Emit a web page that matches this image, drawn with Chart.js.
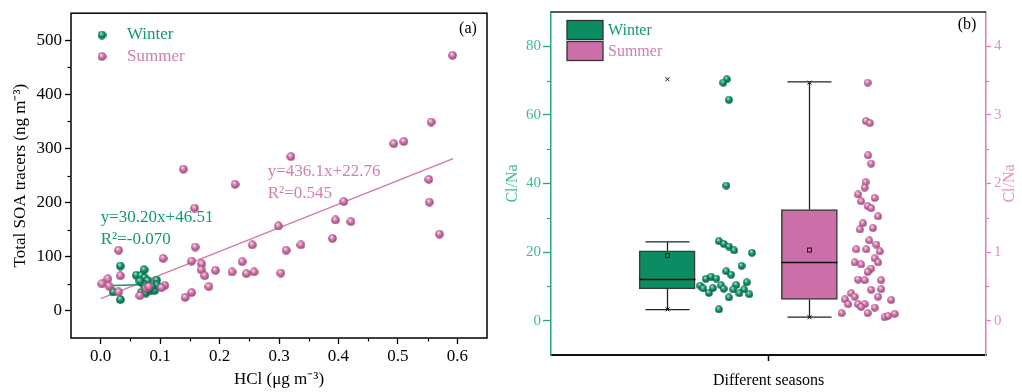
<!DOCTYPE html>
<html><head><meta charset="utf-8">
<script src="https://cdn.jsdelivr.net/npm/chart.js@4.4.1/dist/chart.umd.min.js"></script>
<style>
html,body{margin:0;padding:0;background:#fff;}
#wrap{position:relative;width:1022px;height:392px;overflow:hidden;background:#fff;}
#ca{position:absolute;left:0;top:0;}
#cb{position:absolute;left:500px;top:0;}
</style></head><body>
<div id="wrap"><canvas id="ca" width="500" height="392"></canvas><canvas id="cb" width="522" height="392"></canvas></div>
<script>
// ---------- Panel (a) data ----------
const winterHCl = [0.033,0.073,0.060,0.068,0.074,0.079,0.094,0.021,0.033,0.068,0.076,0.083,0.091,0.094,0.072,0.066,0.086,0.080];
const winterSOA = [83,76,66,65,61,56,57,35,21,34,33,37,38,48,49,55,46,41];
const summerHCl = [0.592,0.556,0.493,0.510,0.552,0.553,0.570,0.409,0.395,0.421,0.390,0.337,0.320,0.299,0.255,0.312,0.258,0.303,0.139,0.226,0.158,0.159,0.105,0.153,0.238,0.170,0.169,0.175,0.193,0.221,0.245,0.182,0.153,0.142,0.108,0.102,0.066,0.076,0.081,0.030,0.033,0.012,0.002,0.014,0.030];
const summerSOA = [472,349,309,313,243,201,142,202,168,165,134,122,285,157,122,112,72,70,262,234,190,118,97,92,91,87,76,65,75,72,69,45,34,25,47,43,28,42,45,112,65,59,50,46,35];
const winterFitX = [0.021, 0.094];
const winterFitY = [47.1, 49.3];
const summerFitX = [0.0, 0.593];
const summerFitY = [22.8, 281.4];
const aXTicks = [0,0.1,0.2,0.3,0.4,0.5,0.6];
const aXTickLabels = ['0.0','0.1','0.2','0.3','0.4','0.5','0.6'];
const aYTicks = [0,100,200,300,400,500];
const aYTickLabels = ['0','100','200','300','400','500'];
const seasonNames = ['Winter','Summer'];
const winterEq = ['y=30.20x+46.51','R\u00B2=-0.070'];
const summerEq = ['y=436.1x+22.76','R\u00B2=0.545'];

// ---------- Panel (b) data ----------
const winterJitter = [0.404,0.396,0.409,0.403,0.386,0.397,0.409,0.421,0.462,0.438,0.403,0.414,0.356,0.368,0.380,0.450,0.426,0.343,0.350,0.372,0.391,0.397,0.419,0.444,0.363,0.433,0.456,0.409,0.386];
const winterRatio = [70.4,69.4,64.4,39.4,23.2,22.4,21.6,20.5,19.8,16.0,14.4,13.4,12.2,12.8,12.3,11.2,10.4,10.2,9.4,9.5,10.3,9.3,9.1,9.1,8.1,8.0,7.7,6.8,3.3];
const summerJitter = [0.728,0.724,0.733,0.729,0.736,0.723,0.721,0.706,0.744,0.713,0.728,0.736,0.752,0.717,0.740,0.710,0.732,0.748,0.702,0.725,0.756,0.744,0.752,0.698,0.713,0.736,0.728,0.706,0.721,0.759,0.736,0.759,0.690,0.698,0.752,0.676,0.782,0.683,0.706,0.721,0.713,0.744,0.668,0.728,0.767,0.775,0.790];
const summerRatio = [3.47,2.91,2.88,2.41,2.29,2.02,1.94,1.84,1.79,1.74,1.67,1.64,1.52,1.42,1.35,1.33,1.17,1.11,1.04,1.04,1.01,0.91,0.85,0.85,0.82,0.76,0.71,0.60,0.59,0.59,0.45,0.46,0.40,0.35,0.35,0.31,0.30,0.24,0.24,0.24,0.20,0.19,0.11,0.11,0.05,0.07,0.10];
// box statistics: [winter (left axis), summer (right axis)]
const boxPos = [0.267, 0.594];
const boxWhiskLow = [3.2, 0.053];
const boxQ1 = [9.3, 0.31];
const boxMedian = [12.0, 0.85];
const boxQ3 = [20.4, 1.62];
const boxWhiskHigh = [23.0, 3.48];
const boxMean = [19.0, 1.03];
const boxMaxMark = [70.4, 3.47];
const boxMinMark = [3.3, 0.05];
const bLeftTicks = [0,20,40,60,80];
const bRightTicks = [0,1,2,3,4];
const bXTicks = [0.5];

// ---------- styles ----------
const SERIF = "'Liberation Serif','Times New Roman',serif";
const GREEN = '#0c8c62', GREEN_TXT = '#14996c', GREEN_LIGHT = '#3fb996', GREEN_AXIS = '#2aa383';
const PINK = '#cc6ea7', PINK_TXT = '#d07fb0', PINK_LIGHT = '#e690c2', PINK_AXIS = '#e07ab5';

function sphere(base, light, dark, d){
  const c = document.createElement('canvas'); c.width = d; c.height = d;
  const g = c.getContext('2d'); const r = d/2;
  const grad = g.createRadialGradient(r*0.75, r*0.6, 0.3, r, r, r);
  grad.addColorStop(0, light); grad.addColorStop(0.5, base); grad.addColorStop(1, dark);
  g.fillStyle = grad; g.beginPath(); g.arc(r, r, r-0.2, 0, Math.PI*2); g.fill();
  return c;
}
const gA = sphere('#0e8f64', '#9fe8cc', '#06583d', 9);
const pA = sphere('#cf6fa9', '#fbd9ec', '#93416f', 9);
const gB = sphere('#0e8f64', '#9fe8cc', '#06583d', 8);
const pB = sphere('#cf6fa9', '#fbd9ec', '#93416f', 8);

function setTicks(arr){ return s => { s.ticks = arr.map(v => ({value: v})); }; }
function mids(arr){ const o=[]; for(let i=0;i<arr.length-1;i++) o.push((arr[i]+arr[i+1])/2); return o; }

const minorTicks = {
  id: 'minorTicks',
  afterDraw(chart, args, opts){
    const ctx = chart.ctx;
    (opts.list || []).forEach(m => {
      const s = chart.scales[m.axis];
      ctx.save(); ctx.strokeStyle = m.color; ctx.lineWidth = m.width || 1.2;
      m.values.forEach(v => {
        const p = Math.round(s.getPixelForValue(v)) + 0.5;
        ctx.beginPath();
        if (s.isHorizontal()) { ctx.moveTo(p, s.top); ctx.lineTo(p, s.top + m.len); }
        else if (s.position === 'left') { ctx.moveTo(s.right, p); ctx.lineTo(s.right - m.len, p); }
        else { ctx.moveTo(s.left, p); ctx.lineTo(s.left + m.len, p); }
        ctx.stroke();
      });
      ctx.restore();
    });
  }
};

// ---------- Panel (a) ----------
const panelA = {
  id: 'panelA',
  afterDraw(chart){
    const ctx = chart.ctx, a = chart.chartArea, x = chart.scales.x, y = chart.scales.y;
    ctx.save();
    ctx.strokeStyle = '#000'; ctx.lineWidth = 1.5;
    ctx.strokeRect(a.left, a.top, a.right - a.left, a.bottom - a.top);
    ctx.textBaseline = 'middle';
    ctx.font = '17px ' + SERIF;
    [[gA, GREEN_TXT, 35], [pA, PINK_TXT, 56.5]].forEach((it, i) => {
      ctx.drawImage(it[0], 102 - 4.5, it[2] - 4.5);
      ctx.fillStyle = it[1]; ctx.textAlign = 'left';
      ctx.fillText(seasonNames[i], 127, it[2]);
    });
    ctx.fillStyle = GREEN_TXT;
    ctx.fillText(winterEq[0], x.getPixelForValue(0.0), y.getPixelForValue(173));
    ctx.fillText(winterEq[1], x.getPixelForValue(0.0), y.getPixelForValue(132.5));
    ctx.fillStyle = PINK_TXT;
    ctx.fillText(summerEq[0], x.getPixelForValue(0.281), y.getPixelForValue(258));
    ctx.fillText(summerEq[1], x.getPixelForValue(0.281), y.getPixelForValue(216));
    ctx.fillStyle = '#000'; ctx.font = '16px ' + SERIF; ctx.textAlign = 'center';
    ctx.fillText('(a)', 468, 29);
    ctx.restore();
  }
};

new Chart(document.getElementById('ca'), {
  type: 'scatter',
  data: { datasets: [
    { type: 'line', label: 'Summer fit', data: summerFitX.map((v,i)=>({x:v, y:summerFitY[i]})), borderColor: '#d27aae', borderWidth: 1.5, pointRadius: 0, fill: false, order: 4 },
    { type: 'line', label: 'Winter fit', data: winterFitX.map((v,i)=>({x:v, y:winterFitY[i]})), borderColor: '#13936a', borderWidth: 1.5, pointRadius: 0, fill: false, order: 3 },
    { label: 'Winter', data: winterHCl.map((v,i)=>({x:v, y:winterSOA[i]})), pointStyle: gA, pointRadius: 4.5, order: 2 },
    { label: 'Summer', data: summerHCl.map((v,i)=>({x:v, y:summerSOA[i]})), pointStyle: pA, pointRadius: 4.5, order: 1 }
  ]},
  options: {
    responsive: false, animation: false, devicePixelRatio: 1,
    layout: { padding: { top: 10, right: 13, left: 0, bottom: 0 } },
    plugins: {
      legend: { display: false }, tooltip: { enabled: false },
      minorTicks: { list: [
        { axis: 'x', values: mids(aXTicks), len: 3.5, color: '#000' },
        { axis: 'y', values: mids(aYTicks), len: 3.5, color: '#000' }
      ]}
    },
    scales: {
      x: {
        type: 'linear', min: -0.05, max: 0.65,
        afterBuildTicks: setTicks(aXTicks),
        afterFit: s => { s.height = 54; },
        ticks: { callback: (v,i) => aXTickLabels[i], font: { family: SERIF, size: 17 }, color: '#000', padding: 2, maxRotation: 0, autoSkip: false },
        grid: { drawOnChartArea: false, drawTicks: true, tickLength: 6, tickColor: '#000', tickWidth: 1.3 },
        border: { display: false },
        title: { display: true, text: 'HCl (\u03BCg m\u207B\u00B3)', font: { family: SERIF, size: 17 }, color: '#000', padding: { top: 0, bottom: 2 } }
      },
      y: {
        type: 'linear', min: -50, max: 550,
        afterBuildTicks: setTicks(aYTicks),
        afterFit: s => { s.width = 71; },
        ticks: { callback: (v,i) => aYTickLabels[i], font: { family: SERIF, size: 17 }, color: '#000', padding: 3, autoSkip: false },
        grid: { drawOnChartArea: false, drawTicks: true, tickLength: 6, tickColor: '#000', tickWidth: 1.3 },
        border: { display: false },
        title: { display: true, text: 'Total SOA tracers (ng m\u207B\u00B3)', font: { family: SERIF, size: 17 }, color: '#000', padding: { top: 10, bottom: 0 } }
      }
    }
  },
  plugins: [minorTicks, panelA]
});

// ---------- Panel (b) ----------
const panelB = {
  id: 'panelB',
  afterDatasetsDraw(chart){
    const ctx = chart.ctx, x = chart.scales.x;
    const axes = [chart.scales.y, chart.scales.y2];
    ctx.save();
    for (let i = 0; i < 2; i++){
      const ys = axes[i];
      const cx = Math.round(x.getPixelForValue(boxPos[i])) + 0.5;
      const half = 22;
      ctx.strokeStyle = '#222'; ctx.lineWidth = 1.3;
      const q1 = ys.getPixelForValue(boxQ1[i]), q3 = ys.getPixelForValue(boxQ3[i]);
      const lo = ys.getPixelForValue(boxWhiskLow[i]), hi = ys.getPixelForValue(boxWhiskHigh[i]);
      ctx.beginPath();
      ctx.moveTo(cx, q3); ctx.lineTo(cx, hi);
      ctx.moveTo(cx - half, hi); ctx.lineTo(cx + half, hi);
      ctx.moveTo(cx, q1); ctx.lineTo(cx, lo);
      ctx.moveTo(cx - half, lo); ctx.lineTo(cx + half, lo);
      ctx.stroke();
      const md = ys.getPixelForValue(boxMedian[i]);
      ctx.lineWidth = 1.5; ctx.strokeStyle = '#111';
      ctx.beginPath(); ctx.moveTo(cx - 28, md); ctx.lineTo(cx + 28, md); ctx.stroke();
      const mn = ys.getPixelForValue(boxMean[i]);
      ctx.lineWidth = 1; ctx.strokeStyle = '#111';
      ctx.strokeRect(cx - 2, mn - 2, 4, 4);
      [boxMaxMark[i], boxMinMark[i]].forEach(v => {
        const p = ys.getPixelForValue(v);
        ctx.beginPath();
        ctx.moveTo(cx - 2, p - 2); ctx.lineTo(cx + 2, p + 2);
        ctx.moveTo(cx + 2, p - 2); ctx.lineTo(cx - 2, p + 2);
        ctx.stroke();
      });
    }
    ctx.restore();
  },
  afterDraw(chart){
    const ctx = chart.ctx, a = chart.chartArea;
    ctx.save();
    ctx.strokeStyle = '#222'; ctx.lineWidth = 1.5;
    ctx.beginPath(); ctx.moveTo(a.left, a.top); ctx.lineTo(a.right, a.top); ctx.stroke();
    const cols = [GREEN, PINK], tcols = [GREEN_TXT, PINK_TXT];
    ctx.font = '16px ' + SERIF; ctx.textBaseline = 'middle'; ctx.textAlign = 'left';
    for (let i = 0; i < 2; i++){
      const yy = 20.5 + i * 21;
      ctx.fillStyle = cols[i]; ctx.fillRect(67, yy, 36, 19);
      ctx.strokeStyle = '#333'; ctx.lineWidth = 1.3; ctx.strokeRect(67, yy, 36, 19);
      ctx.fillStyle = tcols[i]; ctx.fillText(seasonNames[i], 108, yy + 10);
    }
    ctx.fillStyle = '#000'; ctx.textAlign = 'center';
    ctx.fillText('(b)', 467, 25);
    ctx.translate(510, (a.top + a.bottom) / 2);
    ctx.rotate(-Math.PI / 2);
    ctx.fillStyle = PINK_LIGHT; ctx.font = '16px ' + SERIF;
    ctx.fillText('Cl/Na', 0, 0);
    ctx.restore();
  }
};

new Chart(document.getElementById('cb'), {
  type: 'scatter',
  data: { datasets: [
    { type: 'bar', label: 'Winter box', data: [{ x: boxPos[0], y: [boxQ1[0], boxQ3[0]] }], yAxisID: 'y', backgroundColor: GREEN, borderColor: '#3a3a3a', borderWidth: 1.5, borderSkipped: false, barThickness: 56, grouped: false, order: 3 },
    { type: 'bar', label: 'Summer box', data: [{ x: boxPos[1], y: [boxQ1[1], boxQ3[1]] }], yAxisID: 'y2', backgroundColor: PINK, borderColor: '#3a3a3a', borderWidth: 1.5, borderSkipped: false, barThickness: 56, grouped: false, order: 3 },
    { label: 'Winter', data: winterJitter.map((v,i)=>({x:v, y:winterRatio[i]})), yAxisID: 'y', pointStyle: gB, pointRadius: 4, order: 1 },
    { label: 'Summer', data: summerJitter.map((v,i)=>({x:v, y:summerRatio[i]})), yAxisID: 'y2', pointStyle: pB, pointRadius: 4, order: 1 }
  ]},
  options: {
    responsive: false, animation: false, devicePixelRatio: 1,
    layout: { padding: { top: 7, right: 0, left: 0, bottom: 0 } },
    plugins: {
      legend: { display: false }, tooltip: { enabled: false },
      minorTicks: { list: [
        { axis: 'y', values: mids(bLeftTicks), len: 4, color: GREEN_AXIS },
        { axis: 'y2', values: mids(bRightTicks), len: 3, color: PINK_AXIS }
      ]}
    },
    scales: {
      x: {
        type: 'linear', min: 0, max: 1, offset: false,
        afterBuildTicks: setTicks(bXTicks),
        afterFit: s => { s.height = 37; },
        ticks: { callback: () => '', font: { family: SERIF, size: 15 }, padding: 0, autoSkip: false },
        grid: { drawOnChartArea: false, drawTicks: true, tickLength: 6, tickColor: '#000', tickWidth: 1.5, offset: false },
        border: { display: true, color: '#111', width: 2 },
        title: { display: true, text: 'Different seasons', font: { family: SERIF, size: 16 }, color: '#000', padding: { top: 0, bottom: 2 } }
      },
      y: {
        type: 'linear', position: 'left', min: -10, max: 90,
        afterBuildTicks: setTicks(bLeftTicks),
        afterFit: s => { s.width = 51; },
        ticks: { font: { family: SERIF, size: 15 }, color: GREEN_LIGHT, padding: 2, autoSkip: false },
        grid: { drawOnChartArea: false, drawTicks: true, tickLength: 8, tickColor: GREEN_AXIS, tickWidth: 1.3 },
        border: { display: true, color: GREEN_AXIS, width: 1.5 },
        title: { display: true, text: 'Cl/Na', font: { family: SERIF, size: 16 }, color: GREEN_LIGHT, padding: { top: 3, bottom: 0 } }
      },
      y2: {
        type: 'linear', position: 'right', min: -0.5, max: 4.5,
        afterBuildTicks: setTicks(bRightTicks),
        afterFit: s => { s.width = 36; },
        ticks: { font: { family: SERIF, size: 15 }, color: PINK_LIGHT, padding: 3, autoSkip: false },
        grid: { drawOnChartArea: false, drawTicks: true, tickLength: 5, tickColor: PINK_AXIS, tickWidth: 1.3 },
        border: { display: true, color: PINK_AXIS, width: 1.5 }
      }
    }
  },
  plugins: [minorTicks, panelB]
});
</script>
</body></html>
